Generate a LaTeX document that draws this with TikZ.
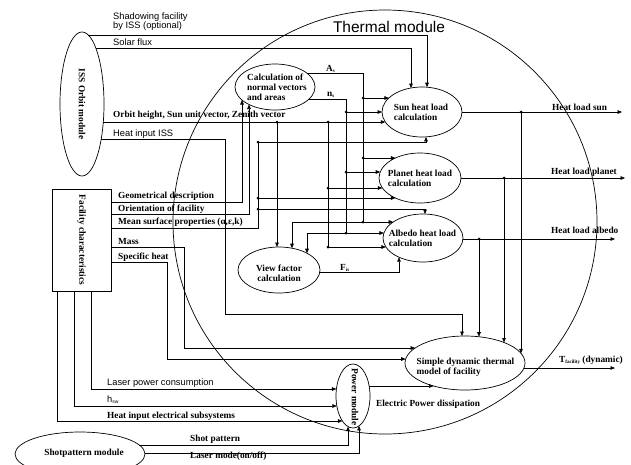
\documentclass[tikz,border=0pt]{standalone}
\usepackage{fontspec}
\setmainfont{Liberation Serif}
\newfontfamily\sansf{Liberation Sans}
\usetikzlibrary{arrows.meta,calc,shapes.geometric}
\newcommand{\tinysub}[1]{\raisebox{-1.2pt}{\fontsize{5}{5}\selectfont #1}}
\begin{document}
\begin{tikzpicture}[x=1pt,y=-1pt,
  ln/.style={line width=0.6pt},
  ar/.style={line width=0.6pt,-{Triangle[length=4.5pt,width=3.6pt]}},
  ell/.style={draw,ellipse,line width=0.7pt,inner sep=0pt,outer sep=0pt},
  bt/.style={font=\bfseries\fontsize{9.3}{9.8}\selectfont,inner sep=0pt,align=left},
  st/.style={font=\sansf\fontsize{9.3}{10}\selectfont,inner sep=0pt,anchor=base west},
  lb/.style={font=\bfseries\fontsize{9.3}{10}\selectfont,inner sep=0pt,anchor=base west},
  dot/.style={circle,fill,inner sep=0pt,minimum size=3pt}
]
\useasboundingbox (0,0) rectangle (631,464);
\clip (0,0) rectangle (631,464);
\fill[white] (0,0) rectangle (631,464);

% ---- main shapes
\node[draw,circle,minimum size=424pt,inner sep=0pt,line width=0.7pt] (therm) at (385,222) {};
\node[font=\sansf\fontsize{15.5}{16}\selectfont,inner sep=0pt] (thT) at (389,27) {Thermal module};

\node[ell,minimum width=44pt,minimum height=144pt] (iss) at (82,104) {};
\node[bt,rotate=-90] (issT) at (iss.center) {ISS Orbit module};

\node[draw,minimum width=59pt,minimum height=102pt,inner sep=0pt,outer sep=0pt,line width=0.7pt] (fac) at (81.5,240) {};
\node[bt,rotate=-90] (facT) at (fac.center) {Facility characteristics};

\node[ell,minimum width=130pt,minimum height=44pt] (shot) at (80,454) {};
\node[bt] (shotT) at (84,453) {Shotpattern module};

\node[ell,minimum width=80pt,minimum height=46pt] (calc) at (275,87) {};
\node[bt] (calcT) at (277,87) {Calculation of\\normal vectors\\and areas};

\node[ell,minimum width=80pt,minimum height=50pt] (sun) at (422,112) {};
\node[bt] (sunT) at (421,112) {Sun heat load\\calculation};

\node[ell,minimum width=82pt,minimum height=50pt] (planet) at (420,178) {};
\node[bt] (planetT) at (420,178) {Planet heat load\\calculation};

\node[ell,minimum width=80pt,minimum height=48pt] (albedo) at (423,238) {};
\node[bt] (albedoT) at (422.5,238) {Albedo heat load\\calculation};

\node[ell,minimum width=82pt,minimum height=46pt] (view) at (279,270) {};
\node[bt,align=center] (viewT) at (279,273) {View factor\\calculation};

\node[ell,minimum width=120pt,minimum height=54pt] (simple) at (465,363) {};
\node[bt] (simpleT) at (465.5,367) {Simple dynamic thermal\\model of facility};

\node[ell,minimum width=34pt,minimum height=64pt] (power) at (353,396) {};
\node[bt,rotate=-90] (powerT) at (355,397) {Power module};

% ---- junction dots
\node[dot] (dO1) at (277,122) {};
\node[dot] (dO2) at (328,122) {};
\node[dot] (dO3) at (328,188) {};
\node[dot] (dO4) at (328,247) {};
\node[dot] (dM1) at (258,142) {};
\node[dot] (dM2) at (258,198) {};
\node[dot] (dM3) at (258,209) {};
\node[dot] (dA1) at (363,98) {};
\node[dot] (dA2) at (363,158) {};
\node[dot] (dA3) at (363,222) {};
\node[dot] (dN1) at (346,112) {};
\node[dot] (dN2) at (346,172) {};
\node[dot] (dN3) at (346,233) {};
\node[dot] (dS) at (521,112) {};
\node[dot] (dP) at (504,178) {};
\node[dot] (dL) at (479,239) {};

\coordinate (cHI) at (225,314);
\coordinate (cMa) at (184,348);
\coordinate (cSp) at (167,359);
\coordinate (oSun) at (622,112);
\coordinate (oPl) at (625,178);
\coordinate (oAl) at (615,239);
\coordinate (oT) at (615,368);

% ---- ISS connectors
\draw[ar] ($(iss.center)+(6.3,-69)$) -| ($(sun.center)+(5,-24.8)$);
\draw[ar] ($(iss.center)+(13.8,-56)$) -| ($(sun.center)+(-11,-24)$);
\draw[ar] ($(iss.center)+(21.3,18)$) -- ($(sun.center)+(-36.7,10)$);
\draw[ar] ($(iss.center)+(19.2,35)$) -| (cHI) -| ($(simple.center)+(-3,-27)$);
\draw[ar] (dO1.center) -- ($(view.center)+(-2,-23)$);
\draw[ln] (dO2.center) -- (dO4.center);
\draw[ar] (dO3.center) -- ($(planet.center)+(-37.6,10)$);
\draw[ar] (dO4.center) -- ($(albedo.center)+(-37.1,9)$);

% ---- facility connectors
\draw[ar] ($(fac.east)+(0,-38)$) -| ($(calc.center)+(-33,13)$);
\draw[ar] ($(fac.east)+(0,-26)$) -| ($(calc.center)+(-26,17.5)$);
\draw[ln] ($(fac.east)+(0,-12)$) -| (dM1.center);
\draw[ar] (dM1.center) -| ($(sun.center)+(4,24.9)$);
\draw[ar] (dM2.center) -- ($(planet.center)+(-24.6,20)$);
\draw[ar] (dM3.center) -| ($(albedo.center)+(2,-24)$);
\draw[ln] ($(fac.east)+(0,7)$) -| (cMa);
\draw[ar] (cMa) -- ($(simple.center)+(-49.9,-15)$);
\draw[ln] ($(fac.east)+(0,22)$) -| (cSp);
\draw[ar] (cSp) -- ($(simple.center)+(-59.3,-4)$);
\draw[ar] ($(fac.south)+(9.5,0)$) |- ($(power.center)+(-16.6,-7)$);
\draw[ar] ($(fac.south)+(-7.5,0)$) |- ($(power.center)+(-16.2,10)$);
\draw[ar] ($(fac.south)+(-24.5,0)$) |- ($(power.center)+(-10.6,25)$);

% ---- shot pattern
\draw[ar] ($(shot.center)+(59.3,-9)$) -| ($(power.center)+(-5,30.6)$);
\draw[ar] ($(shot.center)+(65,-1)$) -| ($(power.center)+(6,29.9)$);

% ---- calc outputs
\draw[ln] ($(calc.center)+(31.7,-14)$) -| (dA3.center);
\draw[ar] (dA1.center) -- ($(sun.center)+(-33.1,-14)$);
\draw[ar] (dA2.center) -- ($(planet.center)+(-24.6,-20)$);
\draw[ar] (dA3.center) -- ($(albedo.center)+(-29.8,-16)$);
\draw[ar] (dA3.center) -| ($(view.center)+(13,-21.8)$);
\draw[ln] ($(calc.center)+(34.1,12)$) -| (dN3.center);
\draw[ar] (dN1.center) -- (sun.west);
\draw[ar] (dN2.center) -- ($(planet.center)+(-39.8,-6)$);
\draw[ar] (dN3.center) -- ($(albedo.center)+(-39.1,-5)$);
\draw[ar] (dN3.center) -| ($(view.center)+(28,-16.8)$);
\draw[ar] ($(view.center)+(41,2)$) -| ($(albedo.center)+(-24,19.2)$);

% ---- heat load outputs
\draw[ar] (sun.east) -- (oSun);
\draw[ar] (dS.center) -- ($(simple.center)+(56,-9.7)$);
\draw[ar] (planet.east) -- (oPl);
\draw[ar] (dP.center) -- ($(simple.center)+(39,-20.5)$);
\draw[ar] ($(albedo.center)+(40,1)$) -- (oAl);
\draw[ar] (dL.center) -- ($(simple.center)+(14,-26.3)$);
\draw[ar] ($(simple.center)+(59,5)$) -- (oT);
\draw[ar] ($(power.center)+(16.2,-10)$) -- ($(simple.center)+(-31.4,23)$);

% ---- labels
\node[st] (lShad1) at (113,19) {Shadowing facility};
\node[st] (lShad2) at (113,28.5) {by ISS (optional)};
\node[st] (lSolar) at (113,45.5) {Solar flux};
\node[lb] (lOrbit) at (113,117) {Orbit height, Sun unit vector, Zenith vector};
\node[st] (lHISS) at (113,136) {Heat input ISS};
\node[lb] (lGeo) at (118,198.5) {Geometrical description};
\node[lb] (lOri) at (118,211.5) {Orientation of facility};
\node[lb] (lMean) at (118,224.5) {Mean surface properties (α,ε,k)};
\node[lb] (lMass) at (118,244.5) {Mass};
\node[lb] (lSpec) at (118,259) {Specific heat};
\node[st] (lLaser) at (107,385) {Laser power consumption};
\node[st] (lh) at (107,402) {h\tinysub{sw}};
\node[lb] (lHel) at (107,418) {Heat input electrical subsystems};
\node[lb] (lShot) at (190,441) {Shot pattern};
\node[lb] (lMode) at (190,458) {Laser mode(on/off)};
\node[lb] (lAs) at (326,71) {A\tinysub{s}};
\node[lb] (lns) at (327,96) {n\tinysub{s}};
\node[lb] (lFis) at (340,270.5) {F\tinysub{is}};
\node[lb] (lHsun) at (552,110.5) {Heat load sun};
\node[lb] (lHpl) at (551,174.5) {Heat load planet};
\node[lb] (lHal) at (551,233) {Heat load albedo};
\node[lb] (lT) at (559,362) {T\tinysub{facility} (dynamic)};
\node[lb] (lEl) at (376,406) {Electric Power dissipation};
\end{tikzpicture}
\end{document}
